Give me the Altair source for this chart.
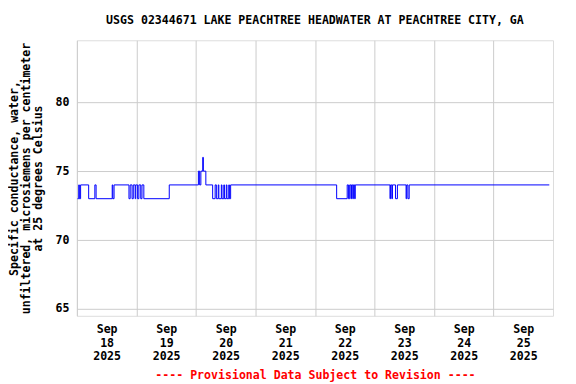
import altair as alt
import pandas as pd

TITLE = "USGS 02344671 LAKE PEACHTREE HEADWATER AT PEACHTREE CITY, GA"
Y_TITLE = ["Specific conductance, water,",
           "unfiltered, microsiemens per centimeter",
           "at 25 degrees Celsius"]
FOOTER = "---- Provisional Data Subject to Revision ----"

# step-change points (local time) and values
times = [
    "2025-09-18T00:15", "2025-09-18T00:45", "2025-09-18T01:00", "2025-09-18T01:30",
    "2025-09-18T04:45", "2025-09-18T07:15", "2025-09-18T07:45", "2025-09-18T14:15",
    "2025-09-18T14:30", "2025-09-18T15:00", "2025-09-18T21:00", "2025-09-18T21:30",
    "2025-09-18T22:15", "2025-09-18T22:45", "2025-09-18T23:30", "2025-09-18T23:45",
    "2025-09-19T00:30", "2025-09-19T01:00", "2025-09-19T01:45", "2025-09-19T02:15",
    "2025-09-19T03:00", "2025-09-19T13:15", "2025-09-20T01:00", "2025-09-20T01:30",
    "2025-09-20T02:00", "2025-09-20T02:45", "2025-09-20T03:00", "2025-09-20T04:00",
    "2025-09-20T06:45", "2025-09-20T07:45", "2025-09-20T08:15", "2025-09-20T09:00",
    "2025-09-20T09:15", "2025-09-20T10:15", "2025-09-20T10:30", "2025-09-20T11:15",
    "2025-09-20T11:30", "2025-09-20T12:15", "2025-09-20T12:30", "2025-09-20T13:15",
    "2025-09-20T13:30", "2025-09-20T14:00", "2025-09-22T08:45", "2025-09-22T13:00",
    "2025-09-22T13:30", "2025-09-22T14:00", "2025-09-22T14:30", "2025-09-22T14:45",
    "2025-09-22T15:15", "2025-09-22T15:30", "2025-09-22T16:00", "2025-09-22T16:15",
    "2025-09-23T06:15", "2025-09-23T06:30", "2025-09-23T07:00", "2025-09-23T07:15",
    "2025-09-23T08:30", "2025-09-23T09:15", "2025-09-23T12:45", "2025-09-23T13:00",
    "2025-09-23T13:30", "2025-09-23T14:00", "2025-09-25T22:30",
]
values = [
    73, 74, 73, 74,
    73, 74, 73, 74,
    73, 74, 73, 74,
    73, 74, 73, 74,
    73, 74, 73, 74,
    73, 74, 75, 74,
    75, 76, 75, 74,
    73, 74, 73, 74,
    73, 74, 73, 74,
    73, 74, 73, 74,
    73, 74, 73, 74,
    73, 74, 73, 74,
    73, 74, 73, 74,
    73, 74, 73, 74,
    73, 74, 73, 74,
    73, 74, 74,
]

day_ticks = ["2025-09-18", "2025-09-19", "2025-09-20", "2025-09-21",
             "2025-09-22", "2025-09-23", "2025-09-24", "2025-09-25"]
y_ticks = [65, 70, 75, 80]

df = pd.DataFrame({"time": times, "value": values})

FONT = "DejaVu Sans Mono"
FS = 11.6

x_axis = alt.Axis(
    values=[alt.DateTime(year=2025, month=9, date=int(d[-2:])) for d in day_ticks],
    labelExpr="[timeFormat(datum.value, '%b'), timeFormat(datum.value, '%d'), timeFormat(datum.value, '%Y')]",
    labelOffset=29.8, labelLineHeight=13.5, labelPadding=8, labelFlush=False,
    labelFont=FONT, labelFontSize=FS, labelFontWeight="bold", labelColor="black",
    ticks=False, domain=False, grid=True, gridColor="#cccccc", gridWidth=1,
    title=FOOTER, titleColor="red", titleFont=FONT, titleFontSize=FS,
    titleFontWeight="bold", titlePadding=7,
)
y_axis = alt.Axis(
    values=y_ticks, labelFont=FONT, labelFontSize=FS, labelFontWeight="bold",
    labelColor="black", labelPadding=8, ticks=False, domain=False,
    grid=True, gridColor="#cccccc", gridWidth=1,
    title=Y_TITLE, titleFont=FONT, titleFontSize=FS, titleFontWeight="bold",
    titleColor="black", titleLineHeight=12.5, titlePadding=11,
)

chart = alt.Chart(df).mark_line(
    color="#0000ff", strokeWidth=1, interpolate="step-after"
).encode(
    x=alt.X("time:T", axis=x_axis,
            scale=alt.Scale(domain=[alt.DateTime(year=2025, month=9, date=18),
                                    alt.DateTime(year=2025, month=9, date=26)])),
    y=alt.Y("value:Q", axis=y_axis,
            scale=alt.Scale(domain=[64.5, 84.5], nice=False, zero=False)),
).properties(
    width=477, height=276,
    autosize="none",
    padding={"left": 69, "top": 32, "right": 15, "bottom": 68},
    title=alt.Title(TITLE, font=FONT, fontSize=FS, fontWeight="bold",
                    color="black", anchor="middle", frame="group",
                    baseline="alphabetic", offset=5),
).configure_view(
    stroke="black", strokeWidth=1
).configure(background="white")

chart.save("out.html", embed_options={"renderer": "svg", "actions": False})
